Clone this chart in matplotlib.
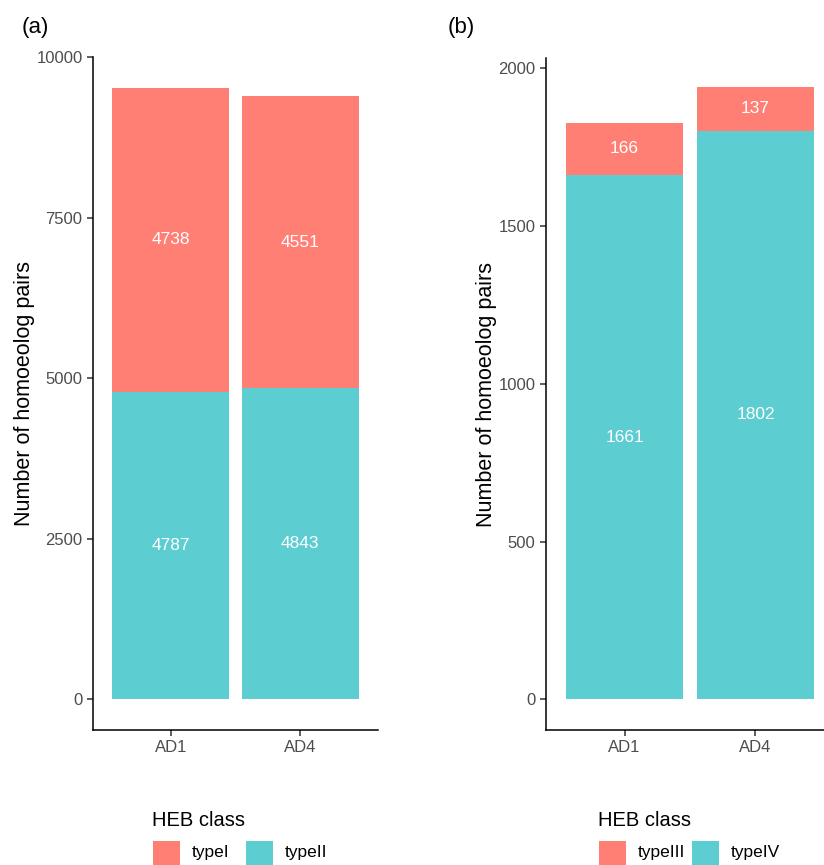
import numpy as np
import matplotlib
matplotlib.use('Agg')
import matplotlib.pyplot as plt
from matplotlib.patches import Rectangle

plt.rcParams['font.family'] = ['Liberation Sans', 'DejaVu Sans']

# data
samples = ['AD1', 'AD4']
type_i = [4738, 4551]
type_ii = [4787, 4843]
type_iii = [166, 137]
type_iv = [1661, 1802]

PINK = '#FF7F75'
TEAL = '#5CCDD1'
W, H = 824, 865


def fx(px):
    return px / W


def fy(py):
    return 1 - py / H


fig = plt.figure(figsize=(W / 100, H / 100), dpi=100)


def panel(rect, bottom_vals, top_vals, yticks, ylim_top, tag, tag_x, legend_x, names):
    ax = fig.add_axes(rect)
    x = np.arange(1, len(samples) + 1)
    ax.bar(x, bottom_vals, width=0.9, color=TEAL, linewidth=0)
    ax.bar(x, top_vals, width=0.9, bottom=bottom_vals, color=PINK, linewidth=0)
    for xi, b, t in zip(x, bottom_vals, top_vals):
        ax.text(xi, b / 2, str(b), color='white', ha='center', va='center', fontsize=12.5)
        ax.text(xi, b + t / 2, str(t), color='white', ha='center', va='center', fontsize=12.5)
    tot = max(b + t for b, t in zip(bottom_vals, top_vals))
    ax.set_ylim(-0.05 * tot, ylim_top)
    ax.set_xlim(0.4, 2.6)
    ax.set_xticks(x)
    ax.set_xticklabels(samples)
    ax.set_yticks(yticks)
    for s in ['top', 'right']:
        ax.spines[s].set_visible(False)
    for s in ['left', 'bottom']:
        ax.spines[s].set_linewidth(1.1)
    ax.tick_params(colors='#333333', labelcolor='#4D4D4D', labelsize=12, length=4, width=1.1)
    ax.set_ylabel('Number of homoeolog pairs', fontsize=15.5, labelpad=1)
    fig.text(fx(tag_x), fy(27), tag, fontsize=16, ha='left', va='center')
    # legend
    fig.text(fx(legend_x), fy(820), 'HEB class', fontsize=14.5, ha='left', va='center')
    kx = [legend_x + 1, legend_x + 94]
    for k, (name, col) in enumerate(zip(names, [PINK, TEAL])):
        fig.patches.append(Rectangle((fx(kx[k]), fy(866)), fx(27), 25 / H,
                                     transform=fig.transFigure, color=col, linewidth=0))
        fig.text(fx(kx[k] + 39), fy(853), name, fontsize=12.5, ha='left', va='center')
    return ax


panel([fx(93), fy(730), fx(378 - 93), (730 - 57) / H], type_ii, type_i,
      [0, 2500, 5000, 7500, 10000], 10000, '(a)', 22, 152, ['typeI', 'typeII'])
panel([fx(546), fy(730), fx(834 - 546), (730 - 58) / H], type_iv, type_iii,
      [0, 500, 1000, 1500, 2000], 2000 + (2000 - 0) * 10 / 631, '(b)', 448, 598, ['typeIII', 'typeIV'])

fig.savefig('out.png', dpi=100)
